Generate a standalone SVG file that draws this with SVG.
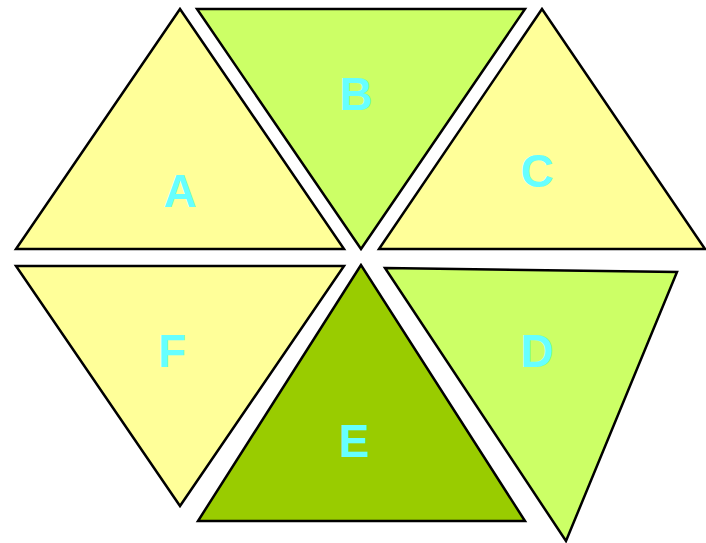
<svg xmlns="http://www.w3.org/2000/svg" width="706" height="543" viewBox="0 0 706 543">
<style>
.t{stroke:#000;stroke-width:2.5;stroke-linejoin:miter}
.y{fill:#FFFF99}.g{fill:#CCFF66}.d{fill:#99CC00}
.l{font-family:"Liberation Sans",Arial,sans-serif;font-weight:bold;font-size:46px;fill:#66FFFF;text-anchor:middle}
</style>
<rect width="706" height="543" fill="#fff"/>
<g id="A"><polygon class="t y" points="180,9 16,249 344,249"/><text class="l" x="180" y="207">A</text></g>
<g id="B"><polygon class="t g" points="197,9 525,9 361,249"/><text class="l" x="356" y="110">B</text></g>
<g id="C"><polygon class="t y" points="542,9 379,249 705,249"/><text class="l" x="537" y="187">C</text></g>
<g id="F"><polygon class="t y" points="16,266 344,266 180,506"/><text class="l" x="172" y="367">F</text></g>
<g id="E"><polygon class="t d" points="361,265 198,521 525,521"/><text class="l" x="354" y="457">E</text></g>
<g id="D"><polygon class="t g" points="385,268 677,272 566,541"/><text class="l" x="537" y="367">D</text></g>
</svg>
